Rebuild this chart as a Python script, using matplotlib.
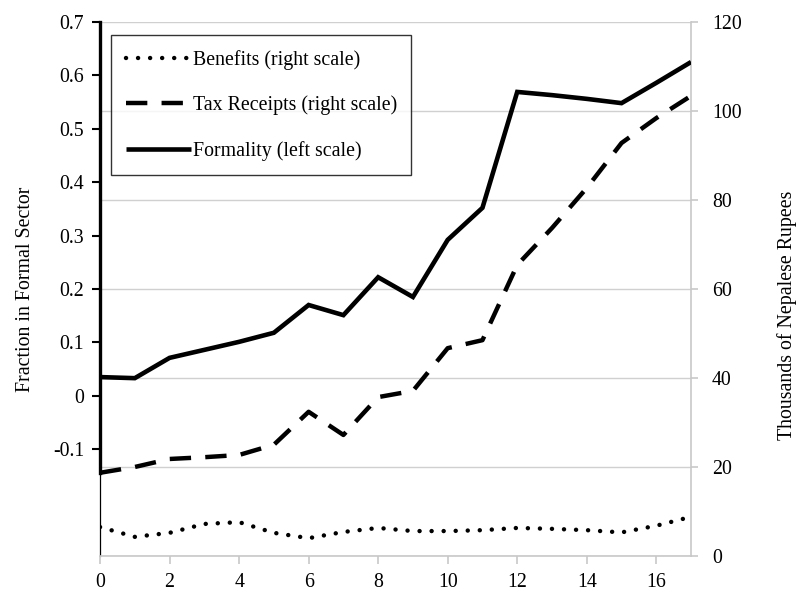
import numpy as np
import matplotlib.pyplot as plt

plt.rcParams['font.family'] = ['Liberation Serif', 'DejaVu Serif']

# years in formal sector (x axis)
years = np.arange(0, 18)

# Formality, left scale
formality = [0.035, 0.033, 0.071, 0.086, 0.101, 0.118, 0.170, 0.151, 0.222,
             0.185, 0.292, 0.352, 0.569, 0.563, 0.556, 0.548, 0.586, 0.625]

# Tax receipts, right scale (thousands of rupees)
tax = [18.7, 20.0, 21.8, 22.2, 22.7, 25.0, 32.4, 27.2, 35.7,
       37.1, 46.7, 48.5, 65.4, 73.7, 82.7, 92.8, 98.4, 103.4]

# Benefits, right scale (thousands of rupees)
benefits = [6.5, 4.3, 5.2, 7.2, 7.6, 5.2, 4.0, 5.4, 6.3,
            5.6, 5.6, 5.8, 6.3, 6.1, 5.8, 5.3, 6.8, 8.8]

left_ticks = [-0.1, 0, 0.1, 0.2, 0.3, 0.4, 0.5, 0.6, 0.7]
left_labels = ['-0.1', '0', '0.1', '0.2', '0.3', '0.4', '0.5', '0.6', '0.7']
right_ticks = [0, 20, 40, 60, 80, 100, 120]
x_ticks = [0, 2, 4, 6, 8, 10, 12, 14, 16]

grey = '#c8c8c8'
fs = 14.3

fig = plt.figure(figsize=(7.99, 5.97), dpi=100)
ax = fig.add_axes([0.1252, 0.0687, 0.7397, 0.8945])
ax2 = ax.twinx()
ax.set_zorder(ax2.get_zorder() + 1)
ax.patch.set_visible(False)

# right axis: gridlines + the two money series
ax2.set_ylim(0, 120)
ax2.set_yticks(right_ticks)
ax2.grid(axis='y', color='#d0d0d0', lw=1.0)
ax2.set_axisbelow(True)
ben_line, = ax2.plot(years, benefits, color='black', lw=3.2,
                     linestyle=(0, (0.01, 2.7)), dash_capstyle='round')
tax_line, = ax2.plot(years, tax, color='black', lw=3.2,
                     linestyle=(0, (4.8, 3.2)), dash_capstyle='butt')

# left axis: formality
form_line, = ax.plot(years, formality, color='black', lw=3.3,
                     solid_capstyle='butt', solid_joinstyle='miter')
ax.set_ylim(-0.3, 0.7)
ax.set_xlim(0, 17)
ax.set_yticks(left_ticks)
ax.set_yticklabels(left_labels)
ax.set_xticks(x_ticks)

# spines
for s in ['top', 'right']:
    ax.spines[s].set_visible(False)
ax2.spines['top'].set_visible(False)
ax2.spines['bottom'].set_visible(False)
ax.spines['bottom'].set_color(grey)
ax.spines['bottom'].set_linewidth(1.2)
ax.spines['left'].set_linewidth(2.4)
ax.spines['left'].set_color('black')
ax.spines['left'].set_bounds(-0.145, 0.7)
ax2.spines['left'].set_linewidth(0.9)
ax2.spines['left'].set_color('black')
ax2.spines['right'].set_color(grey)
ax2.spines['right'].set_linewidth(1.2)

ax.tick_params(axis='y', direction='out', length=6, width=1.5, color='black',
               labelsize=fs, pad=5.5)
ax.tick_params(axis='x', direction='out', length=5.5, width=1.2, color=grey,
               labelsize=fs, pad=7)
ax2.tick_params(axis='y', direction='out', length=5, width=1.2, color=grey,
                labelsize=fs, pad=10)

ax.set_ylabel('Fraction in Formal Sector', fontsize=fs)
ax.yaxis.set_label_coords(-0.11, 0.5)
ax2.set_ylabel('Thousands of Nepalese Rupees', fontsize=fs)
ax2.yaxis.set_label_coords(1.146, 0.45)

handles = [ben_line, tax_line, form_line]
labels = ['Benefits (right scale)', 'Tax Receipts (right scale)',
          'Formality (left scale)']
leg = ax.legend(handles, labels, loc='upper left',
                bbox_to_anchor=(0.019, 0.975), fontsize=fs, frameon=True,
                fancybox=False, edgecolor='black', handlelength=3.3,
                handletextpad=0.08, labelspacing=1.3, borderpad=0.72,
                borderaxespad=0)
leg.get_frame().set_linewidth(1.0)

fig.savefig('out.png', dpi=100)
